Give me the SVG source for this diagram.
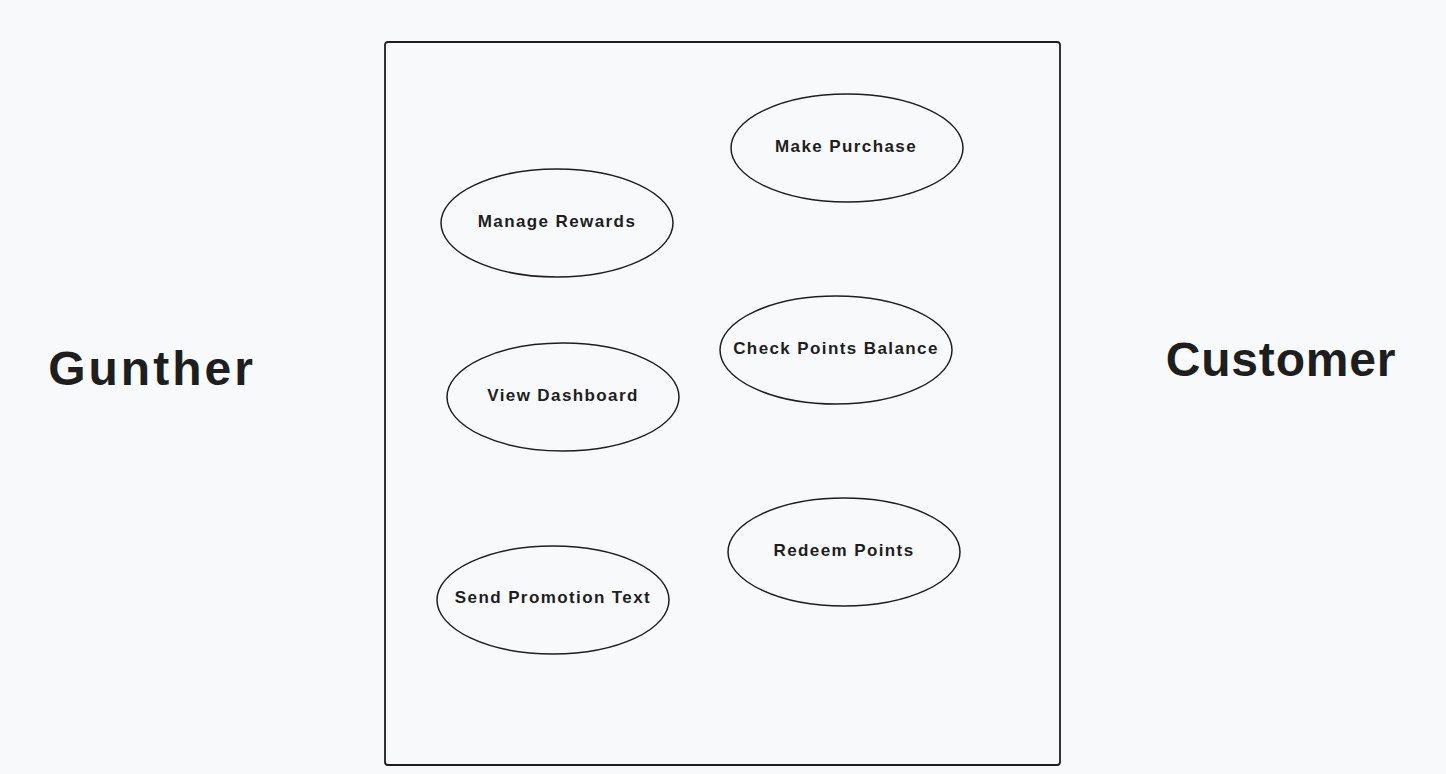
<svg xmlns="http://www.w3.org/2000/svg" width="1446" height="774" viewBox="0 0 1446 774">
<style>
.uc ellipse{fill:none;stroke:#1e1e1e;stroke-width:1.5}
.lbl{font-family:"Liberation Sans",Arial,sans-serif;font-weight:bold;font-size:17px;letter-spacing:1.4px;fill:#1e1e1e;text-anchor:middle}
.actor{font-family:"Liberation Sans",Arial,sans-serif;font-weight:bold;font-size:48px;fill:#1e1e1e;text-anchor:middle}
</style>
<rect width="1446" height="774" fill="#f8f9fa"/>
<g id="system">
<rect x="385" y="42" width="675" height="723" rx="3" fill="none" stroke="#1e1e1e" stroke-width="1.8"/>
</g>
<g id="gunther"><text class="actor" x="152" y="385" letter-spacing="3">Gunther</text></g>
<g id="customer"><text class="actor" x="1281" y="376" letter-spacing="0.8">Customer</text></g>
<g id="make-purchase" class="uc"><ellipse cx="847" cy="148" rx="116" ry="54"/><text class="lbl" x="846" y="152">Make Purchase</text></g>
<g id="manage-rewards" class="uc"><ellipse cx="557" cy="223" rx="116" ry="54"/><text class="lbl" x="557" y="227">Manage Rewards</text></g>
<g id="check-points" class="uc"><ellipse cx="836" cy="350" rx="116" ry="54"/><text class="lbl" x="836" y="354">Check Points Balance</text></g>
<g id="view-dashboard" class="uc"><ellipse cx="563" cy="397" rx="116" ry="54"/><text class="lbl" x="563" y="401">View Dashboard</text></g>
<g id="redeem-points" class="uc"><ellipse cx="844" cy="552" rx="116" ry="54"/><text class="lbl" x="844" y="556">Redeem Points</text></g>
<g id="send-promotion" class="uc"><ellipse cx="553" cy="600" rx="116" ry="54"/><text class="lbl" x="553" y="603">Send Promotion Text</text></g>
<g id="connectors"></g>
</svg>
